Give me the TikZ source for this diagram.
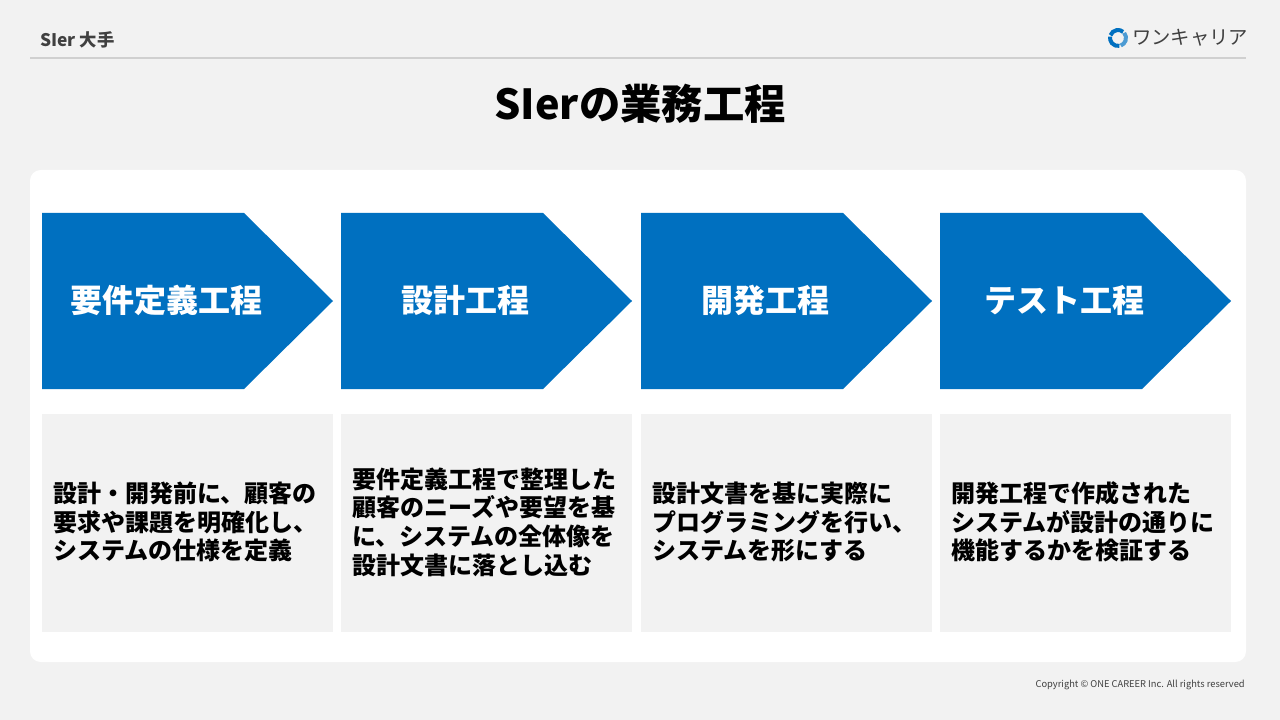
\documentclass[tikz,border=0pt]{standalone}
\usepackage{fontspec}
\setmainfont{Noto Sans CJK JP}
\usetikzlibrary{positioning}
\definecolor{bgGray}{HTML}{F2F2F2}
\definecolor{stepBlue}{HTML}{0070C0}
\definecolor{headGray}{HTML}{404040}
\definecolor{ruleGray}{HTML}{D0D0D0}

\begin{document}
\begin{tikzpicture}[x=0.75pt,y=-0.75pt]
	\tikzstyle{chevron}=[fill=stepBlue,draw=none]
	\tikzstyle{stepname}=[text=white,font=\bfseries\fontsize{24}{28}\selectfont,inner sep=0pt]
	\tikzstyle{descbox}=[fill=bgGray,draw=none,minimum width=291*0.75pt,minimum height=218*0.75pt,anchor=north west,inner sep=0pt]
	\tikzstyle{desctext}=[font=\bfseries\fontsize{18}{21.5}\selectfont,align=left,anchor=west,inner sep=0pt,text=black]
	
	% Background and frame
	\fill[bgGray] (0,0) rectangle (1280,720);
	\useasboundingbox (0,0) rectangle (1280,720);
	\node[anchor=west,text=headGray,font=\bfseries\fontsize{13}{15}\selectfont,inner sep=0pt] (head) at (40,40) {SIer 大手};
	\coordinate (ruleL) at (30,58);
	\coordinate (ruleR) at (1246,58);
	\draw[ruleGray,line width=1.2pt] (ruleL) -- (ruleR);
	
	% Logo
	\coordinate (logo) at (1118,38);
	\draw[stepBlue,line width=3pt] (logo) ++(80:8) arc (80:190:8);
	\draw[stepBlue,line width=3pt] (logo) ++(200:8) arc (200:310:8);
	\draw[stepBlue!70,line width=3pt] (logo) ++(320:8) arc (320:430:8);
	\node[anchor=west,text=headGray,font=\fontsize{14.5}{17}\selectfont,inner sep=0pt,right=14*0.75pt of logo] (brand) {ワンキャリア};
	
	% Title
	\node[font=\bfseries\fontsize{31}{36}\selectfont,inner sep=0pt] (title) at (640,104) {SIerの業務工程};
	
	% White panel
	\fill[white,rounded corners=8pt] (30,170) rectangle (1246,662);
	
	% Steps
	\foreach \i/\x/\name in {1/42/要件定義工程,2/341/設計工程,3/641/開発工程,4/940/テスト工程}{
		\fill[chevron] (\x,213) -- (\x+202,213) -- (\x+291,301) -- (\x+202,389) -- (\x,389) -- cycle;
		\node[stepname] (S-\i) at (\x+124,300) {\name};
		\node[descbox] (D-\i) at (\x,414) {};
	}
	
	% Descriptions
	\node[desctext] (T-1) at (53,522) {設計・開発前に、顧客の\\要求や課題を明確化し、\\システムの仕様を定義};
	\node[desctext] (T-2) at (352,522) {要件定義工程で整理した\\顧客のニーズや要望を基\\に、システムの全体像を\\設計文書に落とし込む};
	\node[desctext] (T-3) at (652,522) {設計文書を基に実際に\\プログラミングを行い、\\システムを形にする};
	\node[desctext] (T-4) at (951,522) {開発工程で作成された\\システムが設計の通りに\\機能するかを検証する};
	
	% Footer
	\node[anchor=east,font=\fontsize{7}{8}\selectfont,inner sep=0pt,text=headGray] (copy) at (1245,685) {Copyright © ONE CAREER Inc. All rights reserved};
\end{tikzpicture}
\end{document}
